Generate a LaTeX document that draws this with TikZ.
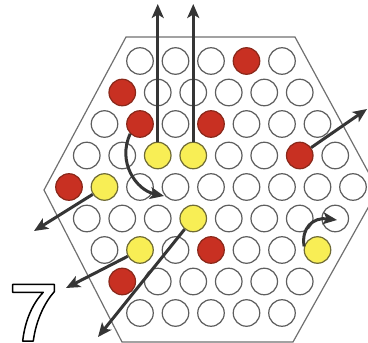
\documentclass[tikz,border=0pt]{standalone}
\usetikzlibrary{arrows.meta}
\definecolor{redp}{HTML}{C83022}
\definecolor{redline}{HTML}{8A281A}
\definecolor{yelp}{HTML}{F8EE55}
\definecolor{yelline}{HTML}{6F6B35}
\definecolor{ring}{HTML}{5E5E5E}
\definecolor{arrowc}{HTML}{353535}
\definecolor{hexc}{HTML}{707070}
\def\markred#1{\expandafter\def\csname fc#1\endcsname{redp}\expandafter\def\csname dc#1\endcsname{redline}}
\def\markyel#1{\expandafter\def\csname fc#1\endcsname{yelp}\expandafter\def\csname dc#1\endcsname{yelline}}
\markred{0-3}\markred{1-0}\markred{2-1}\markred{2-3}\markred{3-6}\markred{4-0}\markred{6-3}\markred{7-0}
\markyel{3-2}\markyel{3-3}\markyel{4-1}\markyel{5-3}\markyel{6-1}\markyel{6-6}
\begin{document}
\begin{tikzpicture}[x=1pt,y=-1pt,
  circ/.style={circle,minimum size=26.5pt,inner sep=0pt,line width=1.2pt},
  mv/.style={draw=arrowc,line width=3pt,-{Stealth[length=14pt,width=12pt,inset=3.5pt]}},
  board/.style={draw=hexc,line width=1.2pt},
  digit/.style={draw=black,fill=white,line width=1.5pt,line join=round}]
\useasboundingbox (0,0) rectangle (368,343);
\draw[board] (126,37) -- (295,37) -- (378,190) -- (293,342) -- (122,342) -- (44,190) -- cycle;
\foreach \r in {0,...,8}{
  \pgfmathtruncatemacro\nn{8-abs(\r-4)}
  \foreach \i in {0,...,\nn}{
    \pgfmathsetmacro\xx{211+35.5*(\i-\nn/2)}
    \pgfmathsetmacro\yy{61+31.5*\r}
    \ifcsname fc\r-\i\endcsname
      \edef\fc{\csname fc\r-\i\endcsname}\edef\dc{\csname dc\r-\i\endcsname}
    \else \def\fc{white}\def\dc{ring}\fi
    \node[circ,fill=\fc,draw=\dc] (c\r-\i) at (\xx,\yy) {};
  }
}
% free ends
\coordinate (t1) at (157.75,4);
\coordinate (t2) at (193.25,4);
\coordinate (t3) at (164,196);
\coordinate (t4) at (367,109);
\coordinate (t5) at (34,231);
\coordinate (t6) at (98,337);
\coordinate (t7) at (66,288);
\coordinate (t8) at (337,220);
\draw[mv] (c3-2) -- (t1);
\draw[mv] (c3-3) -- (t2);
\draw[mv] (c2-1.-135) .. controls (117,162) and (136,190) .. (t3);
\draw[mv] (c3-6) -- (t4);
\draw[mv] (c4-1) -- (t5);
\draw[mv] (c5-3) -- (t6);
\draw[mv] (c6-1) -- (t7);
\draw[mv] (c6-6.165) .. controls (301,228) and (313,217) .. (t8);
% outlined digit 7
\draw[digit] (12.7,284.3) -- (54.3,284.3) -- (54.3,291.7)
  .. controls (45,302) and (36,320) .. (33.3,341) -- (22.7,341)
  .. controls (25,320) and (33,303) .. (43.3,292.3) -- (12.7,292.3) -- cycle;
\end{tikzpicture}
\end{document}
